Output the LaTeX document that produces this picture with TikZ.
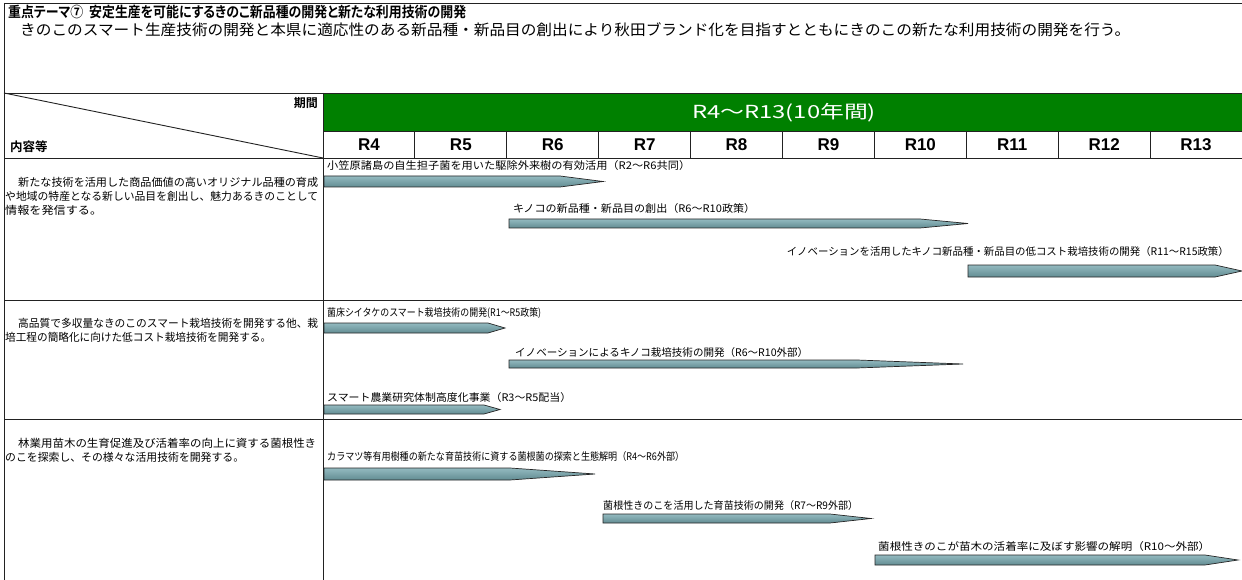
\documentclass[tikz,border=0pt]{standalone}
\usepackage{fontspec}
\usepackage{graphicx}
\setmainfont{Noto Sans CJK JP}
\newfontfamily\jpbold{Noto Sans CJK JP Bold}[RawFeature={+palt}]
\newfontfamily\latinfont{Liberation Sans}
\definecolor{hdrgreen}{HTML}{008000}
\definecolor{bartop}{HTML}{93BAC0}
\definecolor{barmid}{HTML}{CAE6EA}
\definecolor{barbot}{HTML}{628C92}
\definecolor{gridline}{HTML}{222222}
\tikzset{
  grid/.style={draw=gridline, line width=0.9pt},
  yearlbl/.style={font=\fontsize{17}{17}\selectfont\latinfont\bfseries, anchor=center, inner sep=0pt},
  lefttxt/.style={font=\fontsize{11}{11}\selectfont, anchor=base west, inner sep=0pt},
  barlbl/.style={font=\fontsize{10.5}{10.5}\selectfont, anchor=base west, inner sep=0pt},
  barshape/.style={draw=black!85, line width=0.7pt, top color=bartop, middle color=barmid, bottom color=barbot, line join=miter},
}
% text of a fixed width, height kept
\newcommand{\fw}[2]{\resizebox{#1pt}{\height}{#2}}
% \gbar{x1}{xs}{x2}{top}{bottom}
\newcommand{\gbar}[5]{\path[barshape] (#1,#4) -- (#2,#4) -- (#3,{(#4+#5)/2}) -- (#2,#5) -- (#1,#5) -- cycle;}
\begin{document}
\begin{tikzpicture}[x=1pt,y=-1pt]
\useasboundingbox (0,0) rectangle (1242,580);
\fill[white] (0,0) rectangle (1242,580);
% outer frame
\draw[grid] (4,3) -- (1242,3);
\draw[grid] (4,3) -- (4,580);
% title
\node[anchor=base west, inner sep=0pt, font=\fontsize{14.5}{14.5}\selectfont\jpbold] (title) at (8,18) {\fw{458}{重点テーマ⑦\ \ 安定生産を可能にするきのこ新品種の開発と新たな利用技術の開発}};
\node[anchor=base west, inner sep=0pt, font=\fontsize{15}{15}\selectfont] (subtitle) at (20,35.5) {\fw{1110}{きのこのスマート生産技術の開発と本県に適応性のある新品種・新品目の創出により秋田ブランド化を目指すとともにきのこの新たな利用技術の開発を行う。}};
% header
\fill[hdrgreen] (323,93) rectangle (1242,131);
\node[font=\fontsize{18}{18}\selectfont, text=white, anchor=center, inner sep=0pt] (period) at (784,113) {\fw{184}{R4～R13(10年間)}};
\draw[grid] (4,93) -- (1242,93);
\draw[grid] (323,131) -- (1242,131);
\draw[grid] (4,158) -- (1242,158);
\draw[grid] (4,93) -- (323,158);
\draw[grid] (323,93) -- (323,580);
\foreach \i in {1,...,9} {\draw[grid] ({323+\i*91.9},131) -- ({323+\i*91.9},158);}
\foreach \n [count=\i from 0] in {R4,R5,R6,R7,R8,R9,R10,R11,R12,R13} {
  \node[yearlbl] (y\n) at ({323+\i*91.9+45.95},145) {\n};
}
\node[anchor=base east, inner sep=0pt, font=\fontsize{12}{12}\selectfont\jpbold] (kikan) at (318,108) {期間};
\node[anchor=base west, inner sep=0pt, font=\fontsize{12.5}{12.5}\selectfont\jpbold] (naiyo) at (10,152) {内容等};
% row separators
\draw[grid] (4,300) -- (1242,300);
\draw[grid] (4,419) -- (1242,419);
% left texts
\node[lefttxt] (a1) at (18,186.5) {\fw{300}{新たな技術を活用した商品価値の高いオリジナル品種の育成}};
\node[lefttxt] (a2) at (5,200.5) {\fw{313}{や地域の特産となる新しい品目を創出し、魅力あるきのことして}};
\node[lefttxt] (a3) at (5,214.5) {\fw{97}{情報を発信する。}};
\node[lefttxt] (b1) at (18,327.5) {\fw{300}{高品質で多収量なきのこのスマート栽培技術を開発する他、栽}};
\node[lefttxt] (b2) at (5,341.5) {\fw{266}{培工程の簡略化に向けた低コスト栽培技術を開発する。}};
\node[lefttxt] (c1) at (18,447.5) {\fw{298}{林業用苗木の生育促進及び活着率の向上に資する菌根性き}};
\node[lefttxt] (c2) at (5,461.5) {\fw{239}{のこを探索し、その様々な活用技術を開発する。}};
% bars and labels
\node[barlbl] (l1) at (327,170) {\fw{363}{小笠原諸島の自生担子菌を用いた駆除外来樹の有効活用（R2～R6共同）}};
\gbar{324}{560}{603}{176}{187}
\node[barlbl] (l2) at (513,212) {\fw{242}{キノコの新品種・新品目の創出（R6～R10政策）}};
\gbar{509}{920}{968}{219}{228}
\node[barlbl, anchor=base east] (l3) at (1229,255) {\fw{442}{イノベーションを活用したキノコ新品種・新品目の低コスト栽培技術の開発（R11～R15政策）}};
\gbar{968}{1215}{1242}{265}{277}
\node[barlbl] (l4) at (327,316) {\fw{214}{菌床シイタケのスマート栽培技術の開発(R1～R5政策)}};
\gbar{324}{488}{505}{323}{333}
\node[barlbl] (l5) at (515,356) {\fw{293}{イノベーションによるキノコ栽培技術の開発（R6～R10外部）}};
\gbar{509}{857}{963}{360}{368}
\node[barlbl] (l6) at (327,401) {\fw{244}{スマート農業研究体制高度化事業（R3～R5配当）}};
\gbar{324}{484}{500}{405}{414}
\node[barlbl] (l7) at (327,460) {\fw{357}{カラマツ等有用樹種の新たな育苗技術に資する菌根菌の探索と生態解明（R4～R6外部）}};
\gbar{324}{510}{595}{468}{480}
\node[barlbl] (l8) at (603,509) {\fw{255}{菌根性きのこを活用した育苗技術の開発（R7～R9外部）}};
\gbar{603}{830}{871}{514}{523}
\node[barlbl] (l9) at (878,550) {\fw{332}{菌根性きのこが苗木の活着率に及ぼす影響の解明（R10～外部）}};
\gbar{875}{1205}{1238}{555}{565}
\end{tikzpicture}
\end{document}
